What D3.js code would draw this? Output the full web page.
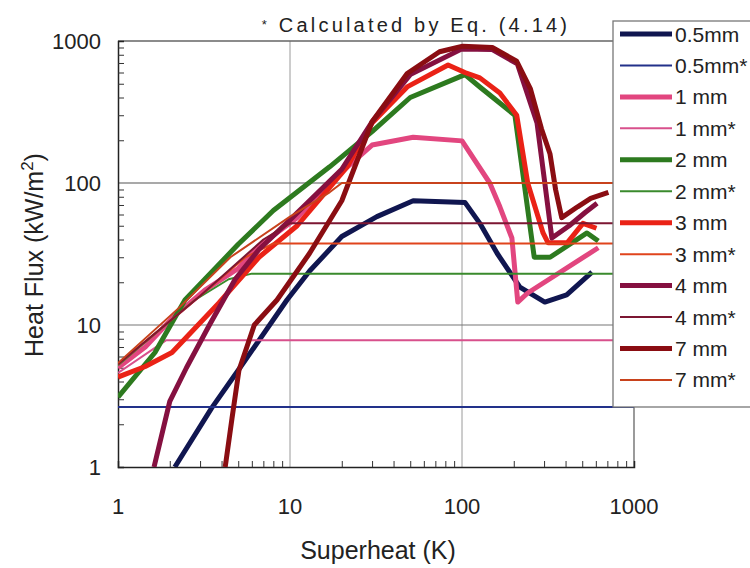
<!DOCTYPE html>
<html>
<head>
<meta charset="utf-8">
<script src="https://cdn.jsdelivr.net/npm/d3@7"></script>
<style>
  body { margin: 0; background: #fff; }
  svg { display: block; font-family: "Liberation Sans", Arial, sans-serif; }
</style>
</head>
<body>
<svg width="750" height="568"></svg>
<script>
// superheat (K), heat flux (kW/m2) pairs
var mm05  = [[2.14,1],[3.5,2.6],[5,4.8],[9.6,15],[13,24],[20,42],[32,58],[52,75],[104,73],[127,52],[160,32],[217,18.5],[303,14.5],[406,16.3],[570,23.6]];
var mm05s = [[1,2.65],[1000,2.65]];
var mm1   = [[1,5],[1.44,7],[2.1,11.4],[3.2,17.6],[5,25],[6.6,36],[11,57],[20,120],[30,185],[52,210],[100,198],[145,100],[166,68],[195,41],[211,14.5],[241,16.8],[620,35]];
var mm1s  = [[1,4.6],[1.9,7.8],[1000,7.8]];
var mm2   = [[1,3.1],[1.64,6.4],[2.45,15],[5,37],[8,64],[17,130],[30,230],[50,400],[104,580],[127,474],[203,300],[263,30],[325,30],[533,44.5],[620,39]];
var mm2s  = [[1,5.2],[2.8,15],[4.4,21],[6,23],[1000,23]];
var mm3   = [[1,4.3],[1.44,5.1],[2.06,6.4],[3.86,14.3],[6.6,30],[11,50],[21.5,130],[30,265],[48,475],[83,677],[104,600],[127,550],[166,430],[208,300],[241,100],[296,44.5],[316,38],[410,38],[505,52],[605,48]];
var mm3s  = [[1,5.3],[3,16],[5.5,30],[8,37.5],[1000,37.5]];
var mm4   = [[1.62,1],[2,2.9],[2.5,5],[3.4,10],[4.8,21],[6.6,34],[10,55],[20,125],[30,270],[50,580],[100,880],[150,870],[210,690],[273,265],[303,100],[333,41],[420,50],[520,62],[610,72]];
var mm4s  = [[1,5.3],[3,16],[7,40],[10,52],[1000,52]];
var mm7   = [[4.2,1],[4.6,2.2],[5.05,4.8],[6.2,10],[8.4,15],[13,32],[20,75],[30,270],[48,590],[74,840],[101,920],[150,900],[208,720],[250,460],[290,240],[325,160],[350,90],[380,57],[470,68],[560,78],[710,86]];
var mm7s  = [[1,5.4],[2.26,13.2],[4.5,30],[10,58],[17,86],[20,100],[1000,100]];

var names  = ["0.5mm","0.5mm*","1 mm","1 mm*","2 mm","2 mm*","3 mm","3 mm*","4 mm","4 mm*","7 mm","7 mm*"];
var series = [mm05, mm05s, mm1, mm1s, mm2, mm2s, mm3, mm3s, mm4, mm4s, mm7, mm7s];
var colors = ["#101650","#22318a","#e2467f","#d8508c","#2d7a1f","#3a8a2c","#ea2216","#e0441c","#851040","#7c1632","#8a0d12","#c8421c"];
var majorTicks = [1, 10, 100, 1000];

var svg = d3.select("svg"),
	L = 118, R = 634, T = 41, B = 467;

var x = d3.scaleLog().domain([1, 1000]).range([L, R]),
	y = d3.scaleLog().domain([1, 1000]).range([B, T]);

var minor = [];
[1, 10, 100].forEach(function(d) { for (var k = 2; k < 10; k++) minor.push(d * k); });

// grid
svg.selectAll(".vg").data([10, 100]).enter().append("line")
	.attr("x1", d => x(d)).attr("x2", d => x(d)).attr("y1", T).attr("y2", B)
	.attr("stroke", "#9a9a9a").attr("stroke-width", 1);
svg.selectAll(".hg").data([10, 100]).enter().append("line")
	.attr("x1", L).attr("x2", R).attr("y1", d => y(d)).attr("y2", d => y(d))
	.attr("stroke", d => d == 100 ? "#555" : "#777").attr("stroke-width", 1.2);
// frame top & right
svg.append("path").attr("d", "M" + L + "," + T + "H" + R + "V" + B)
	.attr("fill", "none").attr("stroke", "#666").attr("stroke-width", 1.3);

// axes
svg.append("g").attr("transform", "translate(" + L + ",0)")
	.call(d3.axisLeft(y).tickValues(minor).tickSize(-6).tickFormat(""))
	.call(g => g.selectAll("line").attr("stroke", "#333"))
	.call(g => g.select(".domain").attr("stroke", "#222").attr("stroke-width", 1.5));
svg.append("g").attr("transform", "translate(0," + B + ")")
	.call(d3.axisBottom(x).tickValues(minor).tickSize(-6).tickFormat(""))
	.call(g => g.selectAll("line").attr("stroke", "#333"))
	.call(g => g.select(".domain").attr("stroke", "#222").attr("stroke-width", 1.5));

svg.selectAll(".yl").data(majorTicks).enter().append("text")
	.attr("x", 101).attr("y", d => y(d) + 8).attr("text-anchor", "end")
	.attr("font-size", 22).attr("fill", "#222").text(d => d);
svg.selectAll(".xl").data(majorTicks).enter().append("text")
	.attr("x", d => x(d)).attr("y", 514).attr("text-anchor", "middle")
	.attr("font-size", 22).attr("fill", "#222").text(d => d);

// axis titles
svg.append("text").attr("x", 378).attr("y", 559).attr("text-anchor", "middle")
	.attr("font-size", 25).attr("fill", "#222").text("Superheat (K)");
var yt = svg.append("text").attr("transform", "translate(43,255) rotate(-90)")
	.attr("text-anchor", "middle").attr("font-size", 25).attr("fill", "#222");
yt.append("tspan").text("Heat Flux (kW/m");
yt.append("tspan").attr("dy", -10).attr("font-size", 17).text("2");
yt.append("tspan").attr("dy", 10).text(")");

// title
var tt = svg.append("text").attr("x", 416).attr("y", 32).attr("text-anchor", "middle")
	.attr("font-size", 20).attr("letter-spacing", 3.2).attr("fill", "#222");
tt.append("tspan").attr("font-size", 13).attr("dy", -3).text("*");
tt.append("tspan").attr("dy", 3).text(" Calculated by Eq. (4.14)");

// curves
svg.append("clipPath").attr("id", "clip").append("rect")
	.attr("x", L).attr("y", T).attr("width", R - L).attr("height", B - T);
var line = d3.line().x(d => x(d[0])).y(d => y(d[1]));
svg.append("g").attr("clip-path", "url(#clip)")
	.selectAll("path").data(series).enter().append("path")
	.attr("d", line).attr("fill", "none")
	.attr("stroke", (d, i) => colors[i])
	.attr("stroke-width", (d, i) => i % 2 ? 2 : 5)
	.attr("stroke-linejoin", "round");

// legend
var lg = svg.append("g");
lg.append("rect").attr("x", 613).attr("y", 21).attr("width", 150).attr("height", 386)
	.attr("fill", "#fff").attr("stroke", "#777").attr("stroke-width", 1.3);
var it = lg.selectAll(".it").data(names).enter().append("g")
	.attr("transform", (d, i) => "translate(0," + (34 + i * 31.45) + ")");
it.append("line").attr("x1", 620).attr("x2", 672)
	.attr("stroke", (d, i) => colors[i]).attr("stroke-width", (d, i) => i % 2 ? 2 : 5);
it.append("text").attr("x", 675).attr("y", 7.5).attr("font-size", 21).attr("fill", "#222")
	.text(d => d);
</script>
</body>
</html>
